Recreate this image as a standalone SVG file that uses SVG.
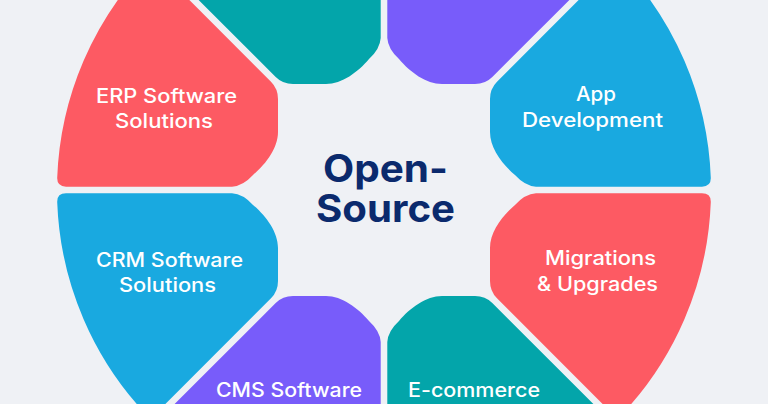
<svg xmlns="http://www.w3.org/2000/svg" xmlns:xlink="http://www.w3.org/1999/xlink" width="768" height="404" viewBox="0 0 768 404">
  <defs>
    <style>
      .lbl { font-family: Inter, "Open Sans", "Liberation Sans", sans-serif; font-weight: 500; font-size: 19.5px; fill: #ffffff; text-anchor: middle; }
      .title { font-family: Inter, "Open Sans", "Liberation Sans", sans-serif; font-weight: 700; font-size: 38px; fill: #0b2a6d; text-anchor: middle; }
      .red { fill: #fd5a63; }
      .teal { fill: #03a5aa; }
      .purple { fill: #785cfa; }
      .blue { fill: #19a9e0; }
    </style>
    <path id="piece" d="M -152,-3.3 L -318,-3.3 Q -327,-3.3 -326.8,-12 A 327 327 0 0 1 -233.5,-228.9 L -113,-108.3 Q -106,-101.3 -106,-91 L -106,-58 C -106,-42 -118,-26 -131,-15 Q -141,-4 -152,-3.3 Z"/>
  </defs>
  <rect width="768" height="404" fill="#eff1f5"/>

  <g id="top-left" transform="translate(384,190)">
    <use xlink:href="#piece" href="#piece" class="teal" transform="matrix(0,1,1,0,0,0)"/>
  </g>
  <g id="top-right" transform="translate(384,190)">
    <use xlink:href="#piece" href="#piece" class="purple" transform="rotate(90)"/>
  </g>

  <g id="erp">
    <use xlink:href="#piece" href="#piece" class="red" transform="translate(384,190)"/>
    <text class="lbl" x="166.5" y="102.7" textLength="141" lengthAdjust="spacingAndGlyphs">ERP Software</text>
    <text class="lbl" x="164" y="128.3" textLength="98" lengthAdjust="spacingAndGlyphs">Solutions</text>
  </g>

  <g id="app">
    <use xlink:href="#piece" href="#piece" class="blue" transform="translate(384,190) rotate(90) matrix(0,1,1,0,0,0)"/>
    <text class="lbl" x="596" y="100.7" textLength="40" lengthAdjust="spacingAndGlyphs">App</text>
    <text class="lbl" x="592.5" y="126.7" textLength="141" lengthAdjust="spacingAndGlyphs">Development</text>
  </g>

  <g id="migrations">
    <use xlink:href="#piece" href="#piece" class="red" transform="translate(384,190) rotate(180)"/>
    <text class="lbl" x="600.5" y="265.3" textLength="111" lengthAdjust="spacingAndGlyphs">Migrations</text>
    <text class="lbl" x="597.5" y="290.7" textLength="121" lengthAdjust="spacingAndGlyphs">&amp; Upgrades</text>
  </g>

  <g id="ecommerce">
    <use xlink:href="#piece" href="#piece" class="teal" transform="translate(384,190) rotate(180) matrix(0,1,1,0,0,0)"/>
    <text class="lbl" x="474" y="397" textLength="132" lengthAdjust="spacingAndGlyphs">E-commerce</text>
  </g>

  <g id="cms">
    <use xlink:href="#piece" href="#piece" class="purple" transform="translate(384,190) rotate(270)"/>
    <text class="lbl" x="289" y="397" textLength="146" lengthAdjust="spacingAndGlyphs">CMS Software</text>
  </g>

  <g id="crm">
    <use xlink:href="#piece" href="#piece" class="blue" transform="translate(384,190) rotate(270) matrix(0,1,1,0,0,0)"/>
    <text class="lbl" x="169.5" y="267.3" textLength="147" lengthAdjust="spacingAndGlyphs">CRM Software</text>
    <text class="lbl" x="167.5" y="291.7" textLength="97" lengthAdjust="spacingAndGlyphs">Solutions</text>
  </g>

  <g id="center">
    <text class="title" x="385.5" y="181.7" textLength="125" lengthAdjust="spacingAndGlyphs">Open-</text>
    <text class="title" x="385.5" y="222" textLength="139" lengthAdjust="spacingAndGlyphs">Source</text>
  </g>

  <g id="connectors"></g>
</svg>
